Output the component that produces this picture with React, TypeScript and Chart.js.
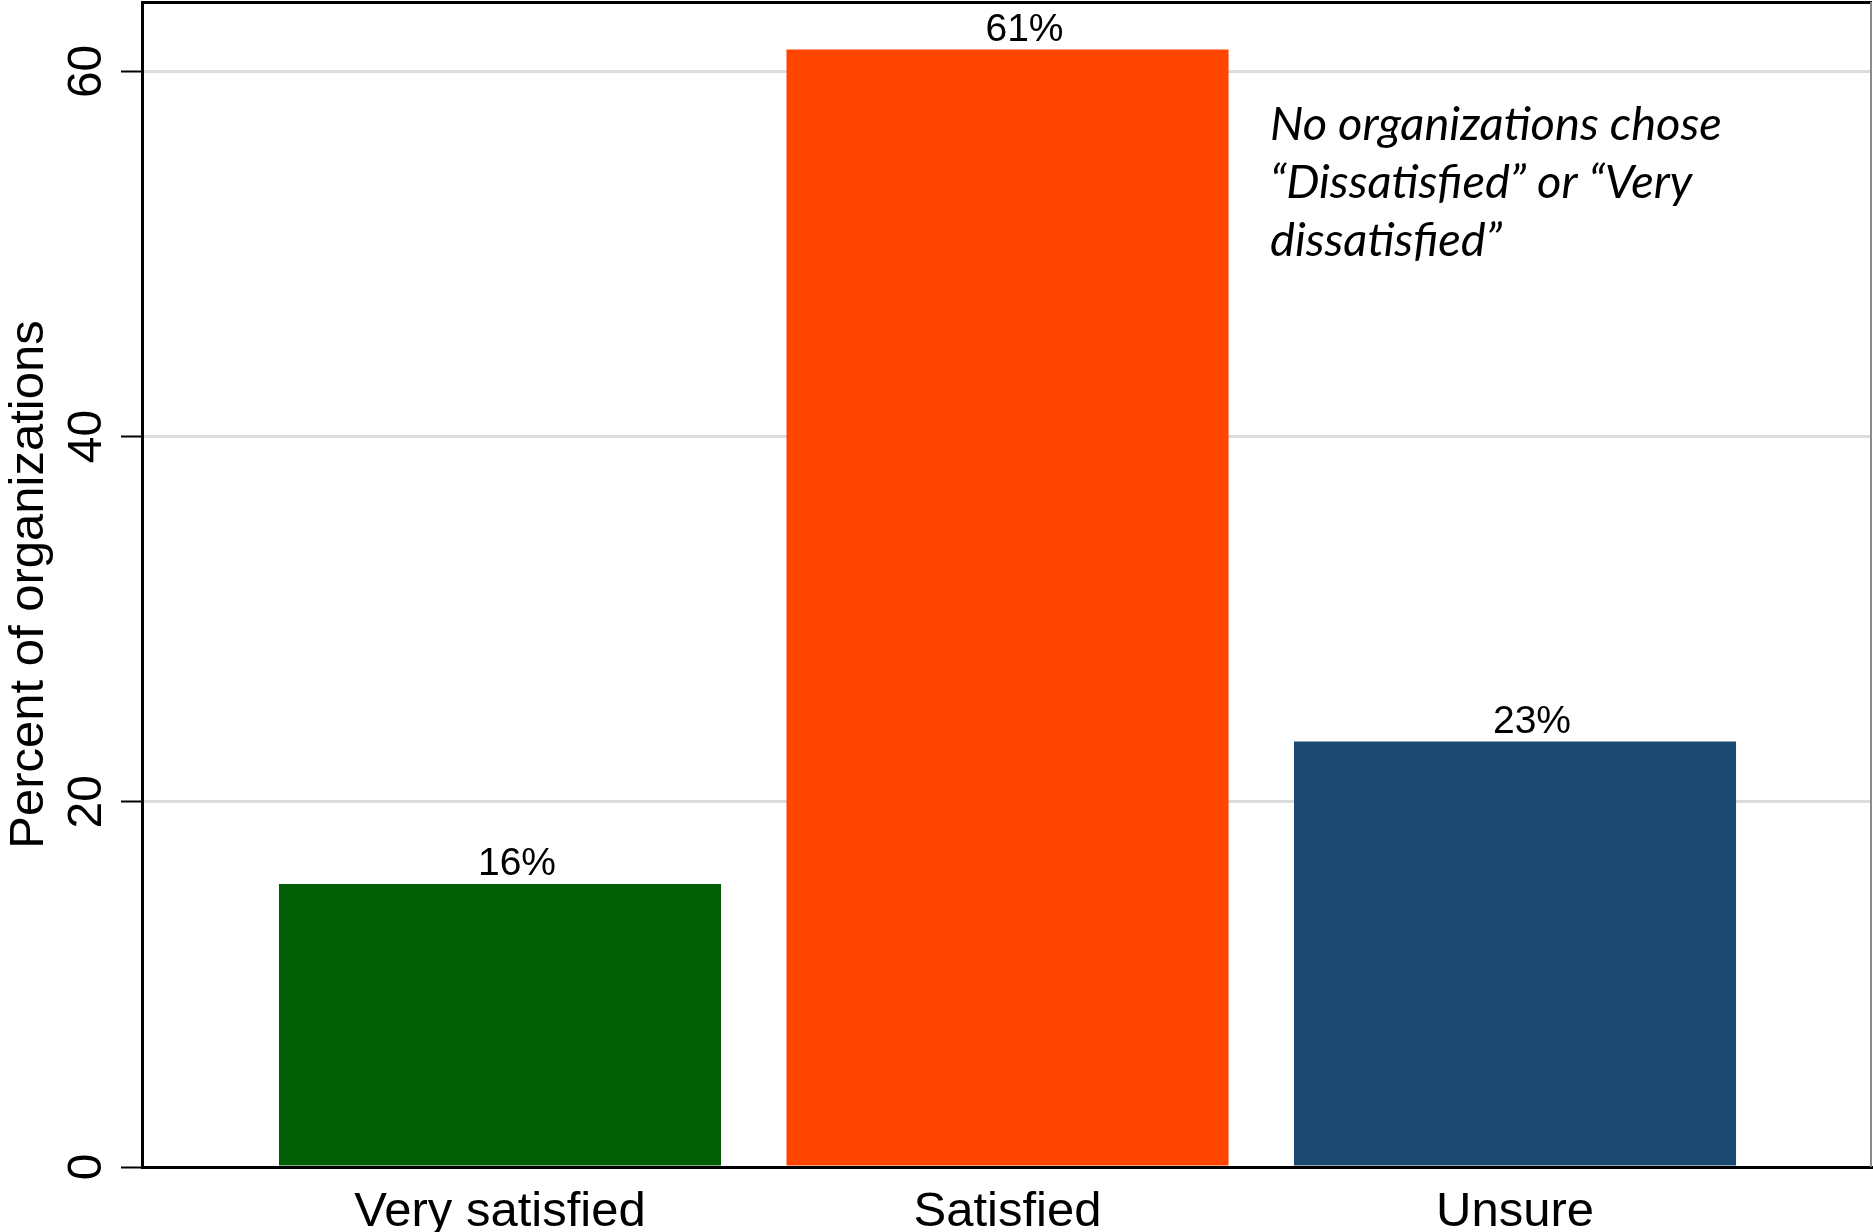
import React, { useEffect, useRef } from "react";
import { Chart, registerables } from "chart.js";

Chart.register(...registerables);

const categories = ["Very satisfied", "Satisfied", "Unsure"];
const percents = [15.5, 61.2, 23.3];
const valueLabels = ["16%", "61%", "23%"];
const barColors = ["#025e04", "#ff4500", "#1c4970"];
const yTicks = [0, 20, 40, 60];
const yTitle = "Percent of organizations";
const noteLines = ["No organizations chose", "\u201cDissatisfied\u201d or \u201cVery", "dissatisfied\u201d"];

const SANS = '"Liberation Sans", Arial, Helvetica, sans-serif';
const NOTE_FONT = 'Lato, "Open Sans", sans-serif';

const overlay = {
  id: "overlay",
  afterDraw(chart: any) {
    const { ctx, chartArea, scales } = chart;
    const xs = scales.x;
    const ys = scales.y;
    ctx.save();

    // frame: top (black) and right (gray)
    ctx.strokeStyle = "#000";
    ctx.lineWidth = 3;
    ctx.beginPath();
    ctx.moveTo(chartArea.left, chartArea.top + 0.5);
    ctx.lineTo(chartArea.right, chartArea.top + 0.5);
    ctx.stroke();
    ctx.strokeStyle = "#8a8a8a";
    ctx.lineWidth = 2;
    ctx.beginPath();
    ctx.moveTo(chartArea.right - 1, chartArea.top);
    ctx.lineTo(chartArea.right - 1, chartArea.bottom);
    ctx.stroke();

    ctx.fillStyle = "#000";

    // y tick labels (rotated)
    ctx.font = `48px ${SANS}`;
    ctx.textAlign = "center";
    ctx.textBaseline = "alphabetic";
    yTicks.forEach((v) => {
      const py = ys.getPixelForValue(v);
      ctx.save();
      ctx.translate(chartArea.left - 41, py);
      ctx.rotate(-Math.PI / 2);
      ctx.fillText(String(v), 0, 0);
      ctx.restore();
    });

    // y title
    ctx.font = `49px ${SANS}`;
    ctx.save();
    ctx.translate(chartArea.left - 99, (chartArea.top + chartArea.bottom) / 2);
    ctx.rotate(-Math.PI / 2);
    ctx.fillText(yTitle, 0, 0);
    ctx.restore();

    // x category labels
    ctx.font = `49px ${SANS}`;
    categories.forEach((c, i) => {
      ctx.fillText(c, xs.getPixelForValue(i + 1), chartArea.bottom + 59);
    });

    // value labels above bars (sit slightly right of bar centre, as in the original)
    ctx.font = `39px ${SANS}`;
    percents.forEach((v, i) => {
      ctx.fillText(valueLabels[i], xs.getPixelForValue(i + 1) + 17, ys.getPixelForValue(v) - 8.5);
    });

    // annotation
    ctx.font = `italic 100px ${NOTE_FONT}`;
    const w = ctx.measureText(noteLines[0]).width;
    const size = (100 * 452) / w;
    ctx.font = `italic ${size.toFixed(2)}px ${NOTE_FONT}`;
    ctx.textAlign = "left";
    const noteX = 1270;
    noteLines.forEach((line, i) => {
      ctx.fillText(line, noteX, chartArea.top + 138 + i * 58);
    });

    ctx.restore();
  },
};

export default function App() {
  const canvasRef = useRef<HTMLCanvasElement | null>(null);

  useEffect(() => {
    const canvas = canvasRef.current;
    if (!canvas) return;
    const chart = new Chart(canvas, {
      type: "bar",
      data: {
        datasets: [
          {
            data: categories.map((c, i) => ({ x: i + 1, y: percents[i] })),
            backgroundColor: barColors,
            borderWidth: 0,
            barPercentage: 0.871,
            categoryPercentage: 1,
          } as any,
        ],
      },
      options: {
        responsive: false,
        animation: false,
        devicePixelRatio: 1,
        layout: { padding: { top: 2, right: 1, left: 0, bottom: 0 } },
        plugins: {
          legend: { display: false },
          tooltip: { enabled: false },
          title: { display: false },
        },
        scales: {
          x: {
            type: "linear",
            min: 0.2946,
            max: 3.7034,
            offset: false,
            grid: { display: false, drawTicks: false },
            border: { display: true, color: "#000", width: 3 },
            ticks: { display: false },
            afterBuildTicks: (s: any) => {
              s.ticks = categories.map((_, i) => ({ value: i + 1 }));
            },
            afterFit: (s: any) => {
              s.height = 65;
            },
          },
          y: {
            type: "linear",
            min: 0,
            max: 63.8,
            afterBuildTicks: (s: any) => {
              s.ticks = yTicks.map((v) => ({ value: v }));
            },
            grid: {
              color: (c: any) => (c.tick && c.tick.value === 0 ? "rgba(0,0,0,0)" : "#dcdcdc"),
              lineWidth: 3,
              drawTicks: true,
              tickColor: "#000",
              tickWidth: 2,
              tickLength: 21,
            },
            border: { display: true, color: "#000", width: 3 },
            ticks: { display: false },
            afterFit: (s: any) => {
              s.width = 142;
            },
          },
        },
      } as any,
      plugins: [overlay],
    });
    return () => chart.destroy();
  }, []);

  return (
    <div style={{ position: "absolute", left: 0, top: 0, width: 1873, height: 1232, background: "#fff" }}>
      <canvas ref={canvasRef} width={1873} height={1232} style={{ display: "block", width: 1873, height: 1232 }} />
    </div>
  );
}
